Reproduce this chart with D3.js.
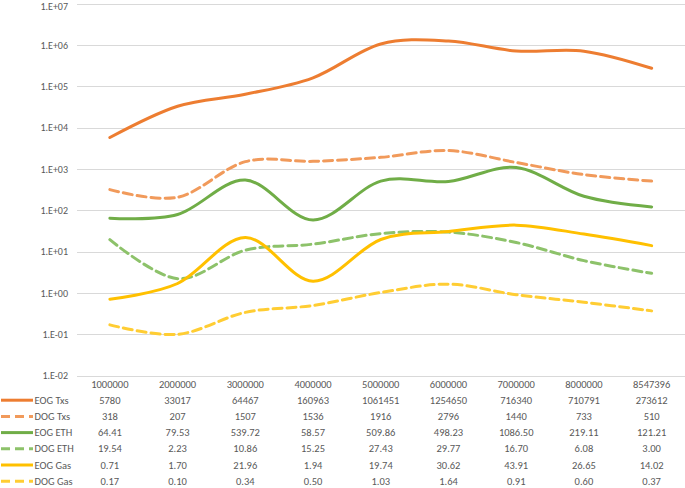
<!DOCTYPE html>
<html><head><meta charset="utf-8">
<script src="https://cdn.jsdelivr.net/npm/d3@7"></script>
<style>body{margin:0;background:#fff}svg{display:block}text{font-family:Carlito,Lato,"Liberation Sans",sans-serif;fill:#595959}</style>
</head><body>
<svg id="c" width="685" height="488"></svg>
<script>
const categories = ["1000000","2000000","3000000","4000000","5000000","6000000","7000000","8000000","8547396"];
const seriesNames = ["EOG Txs","DOG Txs","EOG ETH","DOG ETH","EOG Gas","DOG Gas"];
const eogTxs = [5780,33017,64467,160963,1061451,1254650,716340,710791,273612];
const dogTxs = [318,207,1507,1536,1916,2796,1440,733,510];
const eogEth = [64.41,79.53,539.72,58.57,509.86,498.23,1086.50,219.11,121.21];
const dogEth = [19.54,2.23,10.86,15.25,27.43,29.77,16.70,6.08,3.00];
const eogGas = [0.71,1.70,21.96,1.94,19.74,30.62,43.91,26.65,14.02];
const dogGas = [0.17,0.10,0.34,0.50,1.03,1.64,0.91,0.60,0.37];
const yTicks = [1e7,1e6,1e5,1e4,1e3,1e2,1e1,1e0,1e-1,1e-2];
const yTickLabels = ["1.E+07","1.E+06","1.E+05","1.E+04","1.E+03","1.E+02","1.E+01","1.E+00","1.E-01","1.E-02"];

const series = [
  {name:seriesNames[0], values:eogTxs, color:"#ED7D31", dash:null, fmt:d3.format("d")},
  {name:seriesNames[1], values:dogTxs, color:"#F19A5B", dash:"9,5", fmt:d3.format("d")},
  {name:seriesNames[2], values:eogEth, color:"#70AD47", dash:null, fmt:d3.format(".2f")},
  {name:seriesNames[3], values:dogEth, color:"#8DC26A", dash:"9,5", fmt:d3.format(".2f")},
  {name:seriesNames[4], values:eogGas, color:"#FFC000", dash:null, fmt:d3.format(".2f")},
  {name:seriesNames[5], values:dogGas, color:"#FFCD33", dash:"9,5", fmt:d3.format(".2f")}
];

const svg = d3.select("#c");
const x = d3.scalePoint().domain(categories).range([76, 685.5]).padding(0.5);
const y = d3.scaleLog().domain([1e-2, 1e7]).range([375.7, 3.7]);

// gridlines
svg.append("g").selectAll("line").data(yTicks).join("line")
  .attr("x1", 77).attr("x2", 685)
  .attr("y1", d => Math.round(y(d)) + 0.5).attr("y2", d => Math.round(y(d)) + 0.5)
  .attr("stroke", "#D9D9D9").attr("stroke-width", 1);

// y labels
svg.append("g").selectAll("text").data(yTicks).join("text")
  .attr("x", 68).attr("y", d => Math.max(y(d), 6.5)).attr("dy", "0.35em")
  .attr("text-anchor", "end").attr("font-size", 10)
  .text((d, i) => yTickLabels[i]);

// lines
const line = d3.line().x((d, i) => x(categories[i])).y(d => y(d)).curve(d3.curveCardinal.tension(0));
svg.append("g").selectAll("path").data(series).join("path")
  .attr("d", s => line(s.values))
  .attr("fill", "none").attr("stroke", s => s.color).attr("stroke-width", 3)
  .attr("stroke-dasharray", s => s.dash).attr("stroke-linecap", "round");

// data table
const rowY0 = 384, rowH = 16.2;
svg.append("g").selectAll("text").data(categories).join("text")
  .attr("x", d => x(d)).attr("y", rowY0).attr("dy", "0.35em")
  .attr("text-anchor", "middle").attr("font-size", 10.5).text(d => d);

series.forEach((s, r) => {
  const yy = rowY0 + (r + 1) * rowH;
  svg.append("line").attr("x1", 1).attr("x2", 33).attr("y1", yy).attr("y2", yy)
    .attr("stroke", s.color).attr("stroke-width", 3).attr("stroke-dasharray", s.dash);
  svg.append("text").attr("x", 34.5).attr("y", yy).attr("dy", "0.35em")
    .attr("font-size", 10.5).text(s.name);
  svg.append("g").selectAll("text").data(s.values).join("text")
    .attr("x", (d, i) => x(categories[i])).attr("y", yy).attr("dy", "0.35em")
    .attr("text-anchor", "middle").attr("font-size", 10.5).text(d => s.fmt(d));
});
</script>
</body></html>
